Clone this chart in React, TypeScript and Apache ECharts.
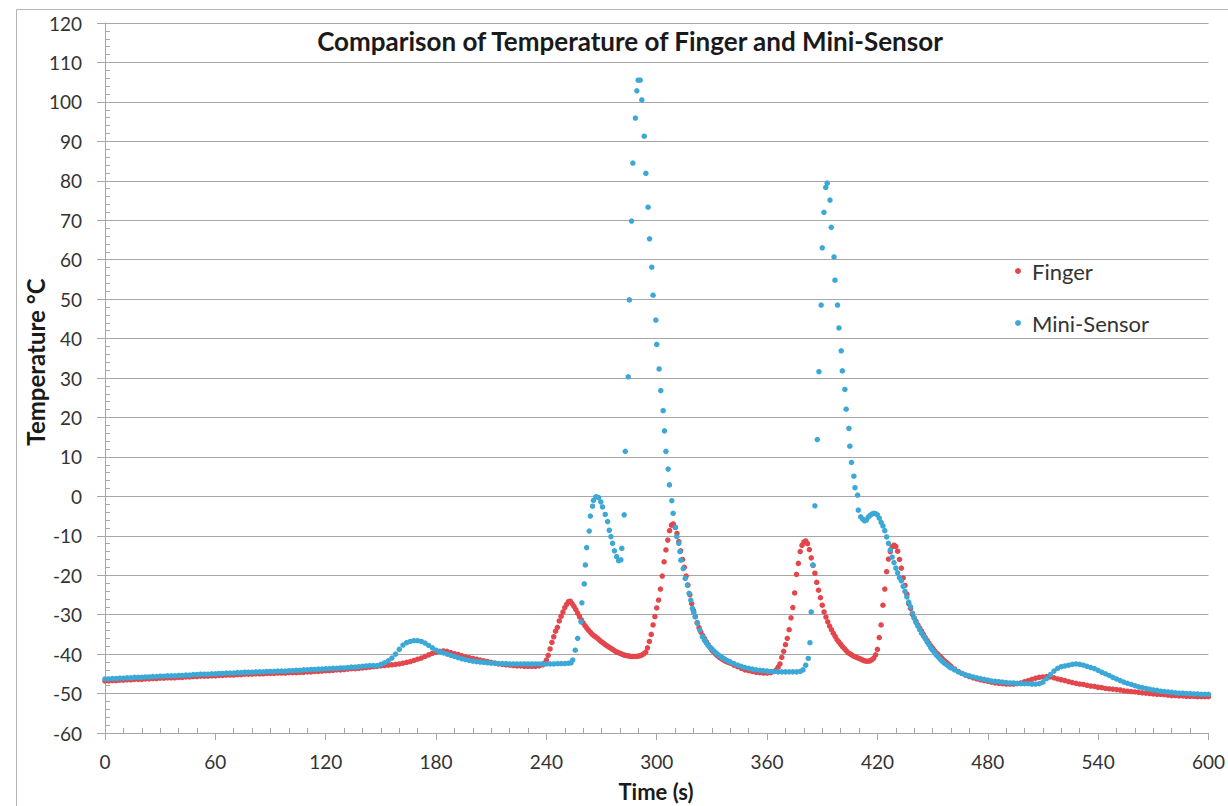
import React, { useEffect, useRef } from 'react';
import * as echarts from 'echarts';

const chartTitle = 'Comparison of Temperature of Finger and Mini-Sensor';
const xAxisTitle = 'Time (s)';
const yAxisTitle = 'Temperature °C';
const seriesNames = ['Finger', 'Mini-Sensor'];
const xRange = [0, 600, 60];
const yRange = [-60, 120, 10];

// [time (s), temperature (°C)]
const fingerData: [number, number][] = [
  [0, -46.8], [2, -46.8], [4, -46.7], [6, -46.7], [8, -46.6], [10, -46.6], [12, -46.5], [14, -46.5], [16, -46.4], [18, -46.4],
  [20, -46.4], [22, -46.3], [24, -46.3], [26, -46.2], [28, -46.2], [30, -46.1], [32, -46.1], [34, -46.0], [36, -46.0], [38, -46.0],
  [40, -45.9], [42, -45.9], [44, -45.8], [46, -45.8], [48, -45.7], [50, -45.7], [52, -45.6], [54, -45.6], [56, -45.6], [58, -45.5],
  [60, -45.5], [62, -45.4], [64, -45.4], [66, -45.3], [68, -45.3], [70, -45.3], [72, -45.2], [74, -45.2], [76, -45.1], [78, -45.1],
  [80, -45.1], [82, -45.0], [84, -45.0], [86, -45.0], [88, -44.9], [90, -44.9], [92, -44.9], [94, -44.8], [96, -44.8], [98, -44.8],
  [100, -44.7], [102, -44.7], [104, -44.7], [106, -44.6], [108, -44.6], [110, -44.5], [112, -44.5], [114, -44.4], [116, -44.4], [118, -44.3],
  [120, -44.2], [122, -44.2], [124, -44.1], [126, -44.0], [128, -44.0], [130, -43.9], [132, -43.8], [134, -43.7], [136, -43.7], [138, -43.6],
  [140, -43.5], [142, -43.4], [144, -43.3], [146, -43.2], [148, -43.1], [150, -43.0], [152, -42.9], [154, -42.8], [156, -42.7], [158, -42.6],
  [160, -42.5], [162, -42.3], [164, -42.1], [166, -41.9], [168, -41.6], [170, -41.3], [172, -41.0], [174, -40.6], [176, -40.2], [178, -39.8],
  [180, -39.5], [182, -39.3], [184, -39.2], [186, -39.3], [188, -39.6], [190, -39.9], [192, -40.1], [194, -40.4], [196, -40.7], [198, -40.9],
  [200, -41.1], [202, -41.3], [204, -41.5], [206, -41.7], [208, -41.9], [210, -42.1], [212, -42.3], [214, -42.5], [216, -42.6], [218, -42.7],
  [220, -42.8], [222, -42.9], [224, -43.0], [226, -43.0], [228, -43.1], [230, -43.1], [232, -43.1], [234, -43.1], [236, -43.0], [238, -42.7],
  [239, -42.3], [240, -41.5], [241, -40.3], [242, -38.7], [243, -37.0], [244, -35.6], [245, -34.2], [246, -33.2], [247, -31.6], [248, -30.4],
  [249, -29.3], [250, -28.2], [251, -27.4], [252, -26.7], [253, -26.6], [254, -27.2], [255, -27.9], [256, -28.7], [257, -29.6], [258, -30.5],
  [259, -31.3], [260, -32.1], [261, -32.8], [262, -33.4], [263, -34.0], [264, -34.5], [265, -35.0], [266, -35.4], [267, -35.7], [268, -36.1],
  [269, -36.5], [270, -36.9], [271, -37.2], [272, -37.6], [273, -37.9], [274, -38.2], [275, -38.5], [276, -38.8], [277, -39.1], [278, -39.4],
  [279, -39.6], [280, -39.8], [281, -40.0], [282, -40.2], [283, -40.3], [284, -40.4], [285, -40.5], [286, -40.6], [287, -40.6], [288, -40.6],
  [289, -40.6], [290, -40.5], [291, -40.4], [292, -40.2], [293, -39.9], [294, -39.5], [295, -38.4], [296, -36.8], [297, -35.0], [298, -32.6],
  [299, -30.5], [300, -28.3], [301, -26.3], [302, -23.5], [303, -20.2], [304, -16.6], [305, -13.6], [306, -11.1], [307, -8.7], [308, -7.3],
  [309, -7.0], [310, -7.8], [311, -9.4], [312, -11.5], [313, -13.8], [314, -16.0], [315, -18.0], [316, -20.2], [317, -22.5], [318, -24.9],
  [319, -27.2], [320, -29.0], [321, -30.5], [322, -32.0], [323, -33.3], [324, -34.4], [325, -35.3], [326, -36.1], [327, -36.9], [328, -37.6],
  [329, -38.3], [330, -39.0], [331, -39.5], [332, -40.0], [333, -40.4], [334, -40.8], [335, -41.1], [336, -41.4], [337, -41.7], [338, -41.9],
  [339, -42.1], [340, -42.3], [342, -42.8], [344, -43.2], [346, -43.6], [348, -44.0], [350, -44.2], [352, -44.4], [354, -44.6], [356, -44.7],
  [358, -44.8], [360, -44.8], [362, -44.7], [364, -44.4], [365, -44.0], [366, -43.3], [367, -42.5], [368, -40.8], [369, -39.3], [370, -37.6],
  [371, -36.0], [372, -33.8], [373, -30.8], [374, -28.2], [375, -24.5], [376, -19.8], [377, -17.0], [378, -14.0], [379, -12.4], [380, -11.6],
  [381, -11.3], [382, -12.0], [383, -13.5], [384, -15.6], [385, -17.5], [386, -19.5], [387, -21.8], [388, -23.8], [389, -25.7], [390, -27.6],
  [391, -29.3], [392, -30.6], [393, -31.8], [394, -32.9], [395, -33.8], [396, -34.7], [397, -35.5], [398, -36.3], [399, -36.9], [400, -37.5],
  [401, -38.1], [402, -38.6], [403, -39.1], [404, -39.6], [405, -39.9], [406, -40.2], [407, -40.5], [408, -40.7], [409, -40.9], [410, -41.1],
  [411, -41.3], [412, -41.5], [413, -41.7], [414, -41.8], [415, -41.8], [416, -41.7], [417, -41.4], [418, -41.0], [419, -40.2], [420, -38.8],
  [421, -35.8], [422, -32.6], [423, -27.6], [424, -23.5], [425, -19.1], [426, -15.9], [427, -14.0], [428, -12.8], [429, -12.4], [430, -12.7],
  [431, -13.9], [432, -16.0], [433, -18.2], [434, -20.7], [435, -22.6], [436, -24.8], [437, -27.2], [438, -28.4], [439, -29.9], [440, -30.8],
  [441, -31.7], [442, -32.6], [443, -33.4], [444, -34.2], [445, -35.0], [446, -35.8], [447, -36.5], [448, -37.2], [449, -37.9], [450, -38.5],
  [451, -39.1], [452, -39.7], [453, -40.1], [454, -40.6], [455, -41.0], [456, -41.5], [457, -41.9], [458, -42.3], [459, -42.7], [460, -43.1],
  [462, -43.8], [464, -44.4], [466, -44.9], [468, -45.3], [470, -45.7], [472, -46.0], [474, -46.3], [476, -46.5], [478, -46.7], [480, -46.9],
  [482, -47.1], [484, -47.3], [486, -47.4], [488, -47.5], [490, -47.6], [492, -47.6], [494, -47.6], [496, -47.5], [498, -47.3], [500, -47.0],
  [502, -46.7], [504, -46.4], [506, -46.1], [508, -45.9], [510, -45.8], [512, -45.7], [514, -45.8], [516, -46.0], [518, -46.3], [520, -46.5],
  [522, -46.7], [524, -47.0], [526, -47.2], [528, -47.4], [530, -47.6], [532, -47.7], [534, -47.9], [536, -48.1], [538, -48.2], [540, -48.4],
  [542, -48.5], [544, -48.7], [546, -48.8], [548, -48.9], [550, -49.0], [552, -49.1], [554, -49.3], [556, -49.4], [558, -49.5], [560, -49.6],
  [562, -49.7], [564, -49.8], [566, -49.9], [568, -50.0], [570, -50.1], [572, -50.2], [574, -50.2], [576, -50.3], [578, -50.4], [580, -50.5],
  [582, -50.5], [584, -50.6], [586, -50.6], [588, -50.7], [590, -50.7], [592, -50.7], [594, -50.8], [596, -50.8], [598, -50.8], [600, -50.8],
];

const sensorData: [number, number][] = [
  [0, -46.3], [2, -46.3], [4, -46.2], [6, -46.2], [8, -46.1], [10, -46.1], [12, -46.0], [14, -46.0], [16, -45.9], [18, -45.9],
  [20, -45.9], [22, -45.8], [24, -45.8], [26, -45.7], [28, -45.7], [30, -45.6], [32, -45.6], [34, -45.5], [36, -45.5], [38, -45.5],
  [40, -45.4], [42, -45.4], [44, -45.3], [46, -45.3], [48, -45.2], [50, -45.2], [52, -45.1], [54, -45.1], [56, -45.1], [58, -45.0],
  [60, -45.0], [62, -44.9], [64, -44.9], [66, -44.8], [68, -44.8], [70, -44.8], [72, -44.7], [74, -44.7], [76, -44.6], [78, -44.6],
  [80, -44.6], [82, -44.5], [84, -44.5], [86, -44.5], [88, -44.4], [90, -44.4], [92, -44.4], [94, -44.3], [96, -44.3], [98, -44.3],
  [100, -44.2], [102, -44.2], [104, -44.1], [106, -44.1], [108, -44.0], [110, -44.0], [112, -43.9], [114, -43.9], [116, -43.8], [118, -43.8],
  [120, -43.7], [122, -43.7], [124, -43.6], [126, -43.6], [128, -43.5], [130, -43.5], [132, -43.4], [134, -43.3], [136, -43.3], [138, -43.2],
  [140, -43.1], [142, -43.0], [144, -42.9], [146, -42.9], [148, -42.9], [150, -42.6], [152, -42.2], [154, -41.7], [156, -41.0], [158, -40.0],
  [160, -38.8], [162, -37.7], [164, -37.1], [166, -36.8], [168, -36.6], [170, -36.6], [172, -36.8], [174, -37.2], [176, -37.8], [178, -38.4],
  [180, -39.0], [182, -39.4], [184, -39.7], [186, -40.0], [188, -40.3], [190, -40.6], [192, -40.9], [194, -41.2], [196, -41.4], [198, -41.6],
  [200, -41.8], [202, -41.9], [204, -42.0], [206, -42.1], [208, -42.2], [210, -42.3], [212, -42.3], [214, -42.4], [216, -42.4], [218, -42.4],
  [220, -42.5], [222, -42.5], [224, -42.5], [226, -42.5], [228, -42.5], [230, -42.5], [232, -42.5], [234, -42.5], [236, -42.5], [238, -42.5],
  [240, -42.5], [242, -42.5], [244, -42.5], [246, -42.4], [248, -42.4], [250, -42.4], [252, -42.3], [253.4, -42.2], [254.3, -41.5], [255.7, -39.0],
  [257.0, -36.0], [258.8, -31.8], [259.3, -27.0], [260.6, -22.2], [261.2, -17.4], [261.9, -13.0], [263.3, -8.8], [263.9, -5.0], [265.1, -2.5], [265.6, -1.0],
  [267.0, -0.1], [268.4, -0.3], [269.6, -1.4], [270.5, -2.7], [272.0, -4.6], [273.3, -6.4], [274.2, -8.6], [275.1, -10.2], [276.0, -11.9], [277.0, -13.8],
  [278.2, -15.3], [279.3, -16.3], [280.5, -16.1], [281.0, -13.2], [282.3, -4.7], [282.9, 11.4], [284.5, 30.3], [285.1, 49.8], [286.3, 69.8], [287.0, 84.5],
  [288.4, 95.9], [289.2, 102.8], [289.9, 105.5], [291.0, 105.5], [291.9, 100.5], [293.2, 91.3], [294.1, 81.9], [295.3, 73.3], [296.1, 65.3], [297.3, 58.1],
  [298.0, 51.0], [299.5, 44.7], [300.0, 38.5], [301.3, 32.3], [302.2, 26.8], [303.5, 21.7], [304.2, 16.6], [305.0, 11.4], [306.2, 6.9], [306.9, 2.9],
  [308.2, -1.1], [308.9, -4.3], [310.2, -7.9], [310.9, -10.2], [312.0, -11.9], [312.6, -14.0], [313.1, -16.2], [314.4, -18.3], [315.5, -20.8], [316.7, -22.5],
  [317.6, -24.6], [318.5, -26.3], [319.4, -28.4], [320.2, -29.5], [320.9, -30.5], [322.1, -32.2], [323.4, -33.9], [324.8, -35.6], [326, -36.5], [327, -37.2],
  [328, -37.8], [329, -38.3], [330, -38.7], [331, -39.2], [332, -39.6], [333, -40.0], [334, -40.4], [335, -40.7], [336, -41.0], [337, -41.3],
  [338, -41.6], [339, -41.8], [340, -42.0], [342, -42.4], [344, -42.8], [346, -43.1], [348, -43.4], [350, -43.6], [352, -43.8], [354, -44.0],
  [356, -44.1], [358, -44.2], [360, -44.3], [362, -44.4], [364, -44.4], [366, -44.5], [368, -44.5], [370, -44.5], [372, -44.5], [374, -44.5],
  [376, -44.5], [378, -44.4], [379.5, -44.0], [381.0, -42.8], [382.4, -41.1], [383.3, -37.1], [384.0, -29.3], [384.9, -17.4], [386.0, -2.4], [387.3, 14.4],
  [388.2, 31.6], [389.4, 48.5], [390.0, 63.0], [390.9, 72.0], [391.9, 78.3], [392.7, 79.4], [394.2, 75.1], [394.9, 68.2], [396.4, 60.7], [396.9, 54.8],
  [398.3, 48.5], [399.1, 42.7], [400.3, 36.9], [400.9, 31.8], [402.3, 27.1], [403.0, 22.1], [404.5, 17.2], [405.0, 12.7], [405.9, 8.6], [407.2, 5.1],
  [407.8, 2.2], [409.2, 0.3], [409.6, -3.5], [410.9, -5.2], [412, -5.8], [413, -6.2], [414, -6.0], [415, -5.3], [416, -4.8], [417, -4.5],
  [418, -4.3], [419, -4.4], [420, -4.7], [421, -5.5], [422, -6.6], [423, -7.5], [424, -8.7], [425, -10.3], [426, -11.9], [427, -13.6],
  [428, -15.4], [429, -16.8], [430, -18.2], [431, -19.4], [432, -20.6], [433, -21.4], [434, -22.8], [435, -24.1], [436, -25.5], [437, -26.8],
  [438, -28.0], [439, -29.6], [440, -30.9], [441, -32.0], [442, -32.9], [443, -33.8], [444, -34.7], [445, -35.4], [446, -36.1], [447, -36.9],
  [448, -37.6], [449, -38.4], [450, -39.0], [451, -39.6], [452, -40.2], [453, -40.7], [454, -41.2], [455, -41.7], [456, -42.1], [457, -42.5],
  [458, -42.8], [459, -43.2], [460, -43.5], [462, -44.0], [464, -44.5], [466, -44.9], [468, -45.3], [470, -45.5], [472, -45.8], [474, -46.0],
  [476, -46.2], [478, -46.4], [480, -46.6], [482, -46.8], [484, -46.9], [486, -47.0], [488, -47.1], [490, -47.2], [492, -47.3], [494, -47.3],
  [496, -47.4], [498, -47.5], [500, -47.5], [502, -47.5], [504, -47.6], [506, -47.6], [508, -47.5], [510, -47.1], [512, -46.2], [514, -45.2],
  [516, -44.3], [518, -43.6], [520, -43.2], [522, -43.0], [524, -42.8], [526, -42.6], [528, -42.5], [530, -42.6], [532, -42.8], [534, -43.1],
  [536, -43.4], [538, -43.7], [540, -44.1], [542, -44.6], [544, -45.0], [546, -45.4], [548, -45.9], [550, -46.3], [552, -46.7], [554, -47.1],
  [556, -47.4], [558, -47.7], [560, -48.0], [562, -48.3], [564, -48.5], [566, -48.7], [568, -48.9], [570, -49.1], [572, -49.2], [574, -49.4],
  [576, -49.5], [578, -49.6], [580, -49.7], [582, -49.8], [584, -49.9], [586, -49.9], [588, -50.0], [590, -50.0], [592, -50.1], [594, -50.1],
  [596, -50.2], [598, -50.2], [600, -50.2],
];

const seriesColors = ['#E3464B', '#3BA8D6'];
const axisGray = '#a6a6a6';
const labelColor = '#333333';
const fontFamily = 'Lato';

export default function App() {
  const ref = useRef<HTMLDivElement>(null);

  useEffect(() => {
    document.body.style.margin = '0';
    if (!ref.current) return;
    const chart = echarts.init(ref.current, undefined, { renderer: 'svg' });
    const axisCommonX = { type: 'value', min: xRange[0], max: xRange[1], interval: xRange[2] };
    const axisCommonY = { type: 'value', min: yRange[0], max: yRange[1], interval: yRange[2] };
    const option: any = {
      animation: false,
      backgroundColor: '#ffffff',
      grid: { left: 105, right: 18, top: 23, bottom: 73 },
      graphic: [
        {
          type: 'rect', silent: true, z: -10,
          shape: { x: 16.5, y: 9.5, width: 1300, height: 900 },
          style: { fill: 'none', stroke: '#b5b5b5', lineWidth: 1 },
        },
        {
          type: 'text', x: 630, y: 41,
          style: { text: chartTitle, font: `bold 26px ${fontFamily}`, fill: '#1a1a1a', align: 'center', verticalAlign: 'middle' },
        },
        {
          type: 'text', x: 656, y: 791,
          style: { text: xAxisTitle, font: `bold 22px ${fontFamily}`, fill: '#1a1a1a', align: 'center', verticalAlign: 'middle' },
        },
        {
          type: 'text', x: 35, y: 362, rotation: Math.PI / 2,
          style: { text: yAxisTitle, font: `bold 24px ${fontFamily}`, fill: '#1a1a1a', align: 'center', verticalAlign: 'middle' },
        },
      ],
      legend: {
        orient: 'vertical', left: 1010, top: 255, itemGap: 30,
        itemWidth: 18, itemHeight: 6, icon: 'circle',
        textStyle: { fontFamily, fontSize: 22, color: labelColor },
        data: seriesNames,
      },
      xAxis: [
        {
          ...axisCommonX,
          axisLine: { show: true, onZero: false, lineStyle: { color: axisGray } },
          axisTick: { show: true, length: 7, lineStyle: { color: axisGray } },
          axisLabel: { margin: 19, fontFamily, fontSize: 19, color: labelColor },
          splitLine: { show: false },
        },
        {
          ...axisCommonX,
          position: 'bottom',
          axisLine: { show: false, onZero: false },
          axisTick: { show: false, inside: true },
          minorTick: { show: true, splitNumber: 6, length: 5, lineStyle: { color: axisGray } },
          axisLabel: { show: false },
          splitLine: { show: false },
        },
      ],
      yAxis: [
        {
          ...axisCommonY,
          axisLine: { show: true, onZero: false, lineStyle: { color: axisGray } },
          axisTick: { show: true, length: 8, lineStyle: { color: axisGray } },
          axisLabel: { margin: 23, fontFamily, fontSize: 19, color: labelColor },
          splitLine: { show: true, lineStyle: { color: axisGray, width: 1 } },
        },
        {
          ...axisCommonY,
          position: 'left',
          axisLine: { show: false, onZero: false },
          axisTick: { show: false, inside: true },
          minorTick: { show: true, splitNumber: 5, length: 5, lineStyle: { color: axisGray } },
          axisLabel: { show: false },
          splitLine: { show: false },
        },
      ],
      series: [
        {
          name: seriesNames[0], type: 'scatter', xAxisIndex: 0, yAxisIndex: 0,
          data: fingerData, symbol: 'circle', symbolSize: 5.5,
          itemStyle: { color: seriesColors[0], opacity: 1 },
        },
        {
          name: seriesNames[1], type: 'scatter', xAxisIndex: 0, yAxisIndex: 0,
          data: sensorData, symbol: 'circle', symbolSize: 5.5,
          itemStyle: { color: seriesColors[1], opacity: 1 },
        },
      ],
    };
    chart.setOption(option);
    return () => chart.dispose();
  }, []);

  return <div ref={ref} style={{ width: 1228, height: 806 }} />;
}
